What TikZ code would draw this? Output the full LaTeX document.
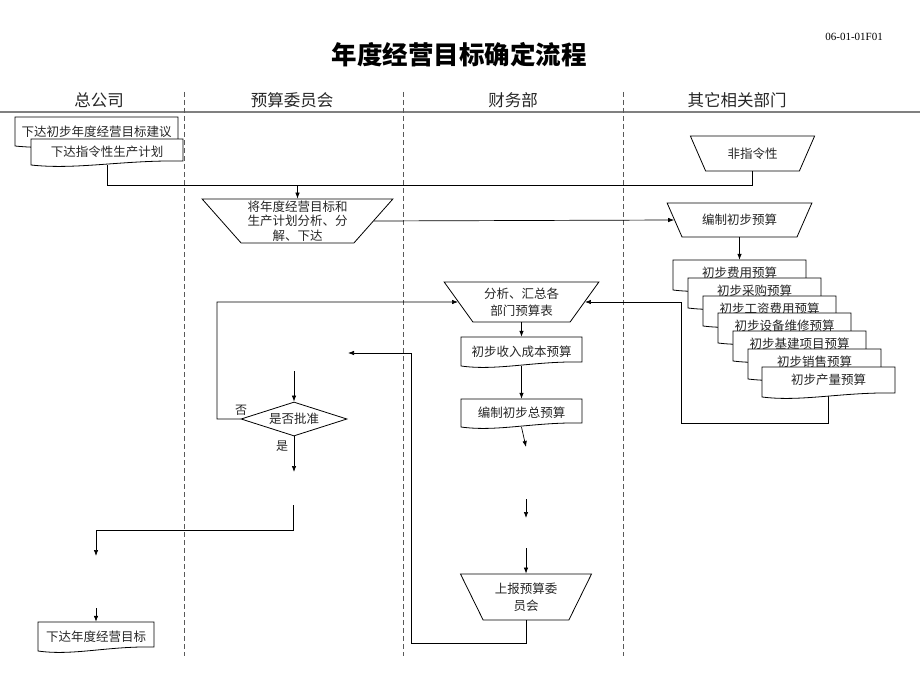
\documentclass[tikz,border=0pt]{standalone}
\usepackage{fontspec}
\setmainfont{Liberation Serif}
\newfontfamily\cjk{Noto Sans CJK SC}
\usetikzlibrary{shapes.geometric,arrows.meta,calc}

\tikzset{
  every node/.style={font=\cjk\fontsize{12.5}{14.5}\selectfont, inner sep=0pt, text=black!85},
  line/.style={draw=black, line width=0.7pt},
  arr/.style={line, -{Latex[length=6pt,width=4.5pt]}},
  trap/.style={trapezium, shape border rotate=180, trapezium stretches=true,
    draw=black, line width=0.8pt, fill=white, align=center, inner sep=0pt},
  docbox/.style={rectangle, align=center, inner sep=0pt},
  docline/.style={draw=black, fill=white, line width=0.8pt},
  lane/.style={draw=black!65, dash pattern=on 5pt off 3pt, line width=0.8pt},
  rule/.style={draw=black!50, line width=2.5pt},
  dec/.style={diamond, aspect=3.1, draw=black, line width=0.8pt, fill=white, inner sep=0pt,
    minimum width=106pt, minimum height=34pt},
  hdr/.style={font=\cjk\fontsize{16.5}{18}\selectfont},
  lbl/.style={font=\cjk\fontsize{12}{14}\selectfont},
}

% name, x0, x1, ytop, ybottom(node), extra(outline below node), text
\newcommand\docnode[7]{%
  \path[docline] (#2,#4) -- (#3,#4) -- (#3,#5+#6-4)
    .. controls ({#2+0.6*(#3-#2)},#5+#6-5) and ({#2+0.3*(#3-#2)},#5+#6+5) .. (#2,#5+#6) -- cycle;
  \node[docbox, minimum width={(#3-#2)*1pt}, minimum height={(#5-#4)*1pt}] (#1)
    at ({(#2+#3)/2},{(#4+#5)/2}) {#7};}

\begin{document}
\begin{tikzpicture}[x=1pt,y=-1pt]
\useasboundingbox (0,0) rectangle (920,690);

% title and code
\node[font=\cjk\bfseries\fontsize{25.5}{28}\selectfont, text=black] (title) at (459,55) {年度经营目标确定流程};
\node[font=\rmfamily\fontsize{11}{12}\selectfont, anchor=east, text=black] (code) at (883,37) {06-01-01F01};

% lane headers
\node[hdr] (h1) at (99,100) {总公司};
\node[hdr] (h2) at (292,100) {预算委员会};
\node[hdr] (h3) at (513,100) {财务部};
\node[hdr] (h4) at (737,100) {其它相关部门};
\draw[rule] (0,112) -- (920,112);
\draw[lane] (184,92) -- (184,656);
\draw[lane] (403,92) -- (403,656);
\draw[lane] (623,92) -- (623,656);

% loop from the budget stack back to the summary (drawn first, behind the stack)
\coordinate (j3) at (681,423);
\node[trap, minimum width=155pt, minimum height=40pt, trapezium angle=52.2, font=\cjk\fontsize{12.5}{17}\selectfont]
  (Tfx) at (521.5,302) {分析、汇总各\\部门预算表};
\coordinate (s6b) at (828.5,393);
\draw[arr] (s6b) |- (j3) |- (Tfx.0);

% top-left documents
\docnode{D1}{15}{178}{117}{146}{0}{下达初步年度经营目标建议}
\docnode{D2}{31}{183}{139}{165}{0}{下达指令性生产计划}

% trapezoids
\node[trap, minimum width=125pt, minimum height=35pt, trapezium angle=55] (Tnon) at (752.5,153.5) {非指令性};
\node[trap, minimum width=146pt, minimum height=34pt, trapezium angle=50] (Tbz) at (739.5,220) {编制初步预算};
\node[trap, minimum width=191pt, minimum height=44pt, trapezium angle=49.6] (Tbig) at (297.5,221)
  {将年度经营目标和\\生产计划分析、分\\解、下达};
\node[trap, minimum width=132pt, minimum height=46pt, trapezium angle=60, font=\cjk\fontsize{12.5}{17}\selectfont]
  (Tsb) at (526,597) {上报预算委\\员会};

% budget stack
\docnode{S0}{673}{806}{260}{286}{4}{初步费用预算}
\docnode{S1}{688}{821}{278}{304}{4}{初步采购预算}
\docnode{S2}{703}{836}{296}{322}{4}{初步工资费用预算}
\docnode{S3}{718}{851}{313}{339}{4}{初步设备维修预算}
\docnode{S4}{733}{866}{331}{357}{4}{初步基建项目预算}
\docnode{S5}{748}{881}{349}{375}{4}{初步销售预算}
\docnode{S6}{762}{895}{367}{393}{4}{初步产量预算}

% finance documents
\docnode{R1}{461}{582}{337}{366}{0}{初步收入成本预算}
\docnode{R2}{461}{582}{399}{427}{0}{编制初步总预算}
\docnode{Dfin}{38}{154}{622}{651}{0}{下达年度经营目标}

% decision
\node[dec] (dec) at (294,419) {是否批准};
\node[lbl] (no) at (241,410) {否};
\node[lbl] (yes) at (282,446) {是};

% connectors
\coordinate (j2) at (752.5,185);
\draw[line] (D2.south) |- (j2) -- (Tnon.270);
\draw[arr] (Tbig.90 |- j2) -- (Tbig.90);
\draw[arr] (Tbig.0) -- (Tbz.180);
\draw[arr] (Tbz.270) -- (S0.north);

\coordinate (j4) at (217,302);
\draw[arr] (dec.west) -| (j4) -- (Tfx.180);
\draw[arr] (Tfx.270) -- (R1.north);
\draw[arr] (R1.south) -- (R2.north);
\coordinate (j5) at (526,447);
\draw[arr] (R2.south) -- (j5);
\coordinate (j6) at (526,499);
\coordinate (j7) at (526,518);
\draw[arr] (j6) -- (j7);
\coordinate (j8) at (526,548);
\draw[arr] (j8) -- (Tsb.90);
\coordinate (j9) at (411,643);
\coordinate (j10) at (348,353);
\draw[arr] (Tsb.270) |- (j9) |- (j10);
\coordinate (j11) at (294,371);
\draw[arr] (j11) -- (dec.north);
\coordinate (j12) at (294,472);
\draw[arr] (dec.south) -- (j12);
\coordinate (j13) at (293,505);
\coordinate (j13b) at (293,530);
\coordinate (j14) at (96,556);
\draw[arr] (j13) -- (j13b) -| (j14);
\coordinate (j15) at (96,608);
\draw[arr] (j15) -- (Dfin.north);
\end{tikzpicture}
\end{document}
